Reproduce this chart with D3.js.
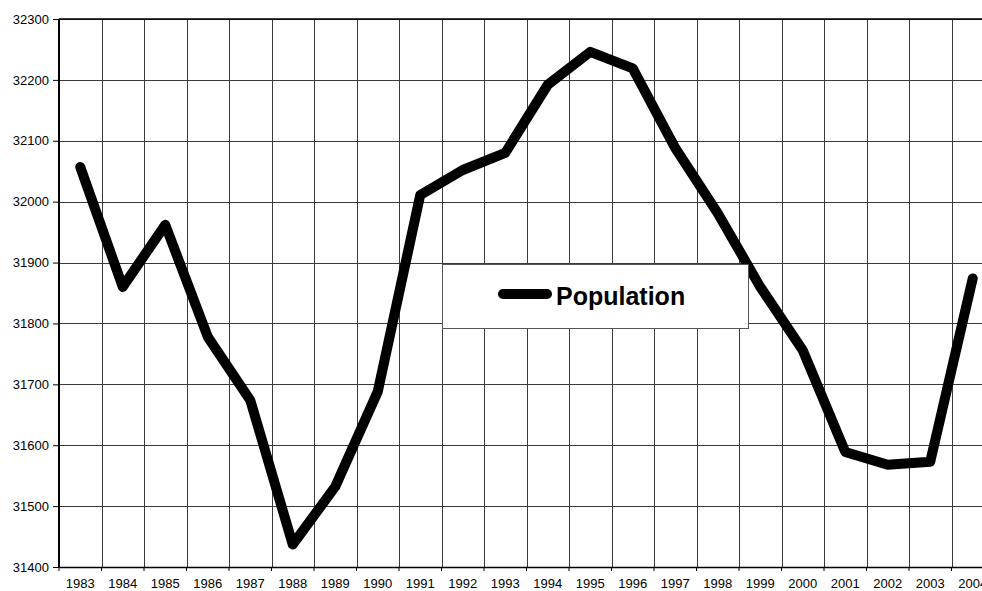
<!DOCTYPE html>
<meta charset="utf-8">
<head>
    <script src="https://cdn.jsdelivr.net/npm/d3@7"></script>
    <style>
        body { margin: 0; background: white; }
        svg { display: block; font-family: "Liberation Sans", Arial, sans-serif; }
        .grid line { stroke: #3a3a3a; stroke-width: 1; shape-rendering: crispEdges; }
        .tick text { font-size: 13px; fill: #000; }
    </style>
</head>
<body>
<div id="chart"></div>
<script>
    // years on the x axis
    var years = ["1983", "1984", "1985", "1986", "1987", "1988", "1989", "1990", "1991", "1992", "1993",
                 "1994", "1995", "1996", "1997", "1998", "1999", "2000", "2001", "2002", "2003", "2004"];
    // population values
    var population = [32057, 31860, 31962, 31778, 31674, 31437, 31532, 31688, 32011, 32052, 32080,
                      32192, 32246, 32219, 32088, 31981, 31860, 31756, 31589, 31568, 31573, 31874];
    var yTicks = [31400, 31500, 31600, 31700, 31800, 31900, 32000, 32100, 32200, 32300];
    var seriesName = "Population";

    var width = 982, height = 591;
    // plot area; the last column runs past the right edge like the original
    var plotLeft = 59, plotTop = 19, plotBottom = 567, step = 42.5;

    var svg = d3.select("#chart").append("svg")
        .attr("width", width)
        .attr("height", height);

    var x = d3.scaleBand()
        .domain(years)
        .range([plotLeft, plotLeft + step * years.length]);

    var y = d3.scaleLinear()
        .domain([31400, 32300])
        .range([plotBottom, plotTop]);

    // horizontal grid lines
    svg.append("g").attr("class", "grid")
        .selectAll("line")
        .data(yTicks)
        .enter().append("line")
        .attr("x1", plotLeft).attr("x2", width)
        .attr("y1", function(d) { return Math.round(y(d)) + 0.5; })
        .attr("y2", function(d) { return Math.round(y(d)) + 0.5; });

    // vertical grid lines at category boundaries
    svg.append("g").attr("class", "grid")
        .selectAll("line")
        .data(years.slice(1))
        .enter().append("line")
        .attr("x1", function(d) { return Math.round(x(d)) + 0.5; })
        .attr("x2", function(d) { return Math.round(x(d)) + 0.5; })
        .attr("y1", plotTop).attr("y2", plotBottom);

    // y axis
    var yAxis = svg.append("g")
        .attr("transform", "translate(" + plotLeft + ",0)")
        .call(d3.axisLeft(y).tickValues(yTicks).tickSize(6).tickPadding(4).tickFormat(d3.format("d")));
    yAxis.select(".domain").attr("stroke", "#000").attr("stroke-width", 2).attr("d", "M0," + plotTop + "V" + plotBottom);
    yAxis.selectAll(".tick line").attr("stroke", "#000");

    // x axis, ticks sit between categories
    var xAxis = svg.append("g")
        .attr("transform", "translate(0," + plotBottom + ")")
        .call(d3.axisBottom(x).tickSize(0).tickPadding(12));
    xAxis.select(".domain").attr("stroke", "#000").attr("stroke-width", 1.5);
    xAxis.selectAll(".tick line").remove();
    xAxis.append("g")
        .selectAll("line")
        .data(years)
        .enter().append("line")
        .attr("x1", function(d) { return x(d); })
        .attr("x2", function(d) { return x(d); })
        .attr("y1", 0).attr("y2", 4)
        .attr("stroke", "#000");

    // top border
    svg.append("line")
        .attr("x1", plotLeft).attr("x2", width)
        .attr("y1", plotTop).attr("y2", plotTop)
        .attr("stroke", "#000").attr("stroke-width", 1.5);

    // the series
    var line = d3.line()
        .x(function(d, i) { return x(years[i]) + x.bandwidth() / 2; })
        .y(function(d) { return y(d); });

    svg.append("path")
        .datum(population)
        .attr("d", line)
        .attr("fill", "none")
        .attr("stroke", "#000")
        .attr("stroke-width", 10)
        .attr("stroke-linejoin", "round")
        .attr("stroke-linecap", "round");

    // legend
    var legend = svg.append("g").attr("transform", "translate(442,264)");
    legend.append("rect")
        .attr("x", 0.5).attr("y", 0.5)
        .attr("width", 306).attr("height", 64)
        .attr("fill", "#fff")
        .attr("stroke", "#555");
    legend.append("line")
        .attr("x1", 61).attr("x2", 105)
        .attr("y1", 30).attr("y2", 30)
        .attr("stroke", "#000")
        .attr("stroke-width", 10)
        .attr("stroke-linecap", "round");
    legend.append("text")
        .attr("x", 114).attr("y", 41)
        .style("font-size", "25px")
        .style("font-weight", "bold")
        .text(seriesName);
</script>
</body>
